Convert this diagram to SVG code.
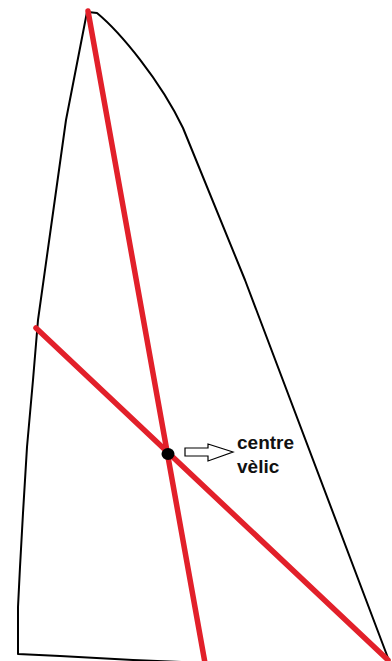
<svg xmlns="http://www.w3.org/2000/svg" width="392" height="661" viewBox="0 0 392 661">
<style>
.outline{fill:none;stroke:#000;stroke-width:2;stroke-linejoin:round}
.red{fill:none;stroke:#e2202a;stroke-width:5.5;stroke-linecap:round}
.lbl{font-family:"Liberation Sans",Arial,sans-serif;font-weight:bold;font-size:19px;fill:#111}
</style>
<rect width="392" height="661" fill="#fff"/>
<g id="sail">
<path class="outline" d="M88,12 L97,13 C120,32 160,80 183,128 L245,280 L388,658"/>
<path class="outline" d="M87,12 L66,120 L52,220 L38,320 L33,380 L27,447 L23,513 L20,567 L18,607 L18,654 L60,656 L133,660 L230,664"/>
</g>
<g id="connectors">
<line class="red" x1="88" y1="11" x2="205" y2="663"/>
<line class="red" x1="36" y1="328" x2="388" y2="660"/>
</g>
<g id="centre">
<ellipse cx="168" cy="454" rx="6.5" ry="6" fill="#000"/>
<polygon points="185,448 208,448 208,444 233,452 208,461 208,456 185,456" fill="#fff" stroke="#000" stroke-width="1.2"/>
<text class="lbl" x="237" y="449">centre</text>
<text class="lbl" x="237" y="473">vèlic</text>
</g>
</svg>
